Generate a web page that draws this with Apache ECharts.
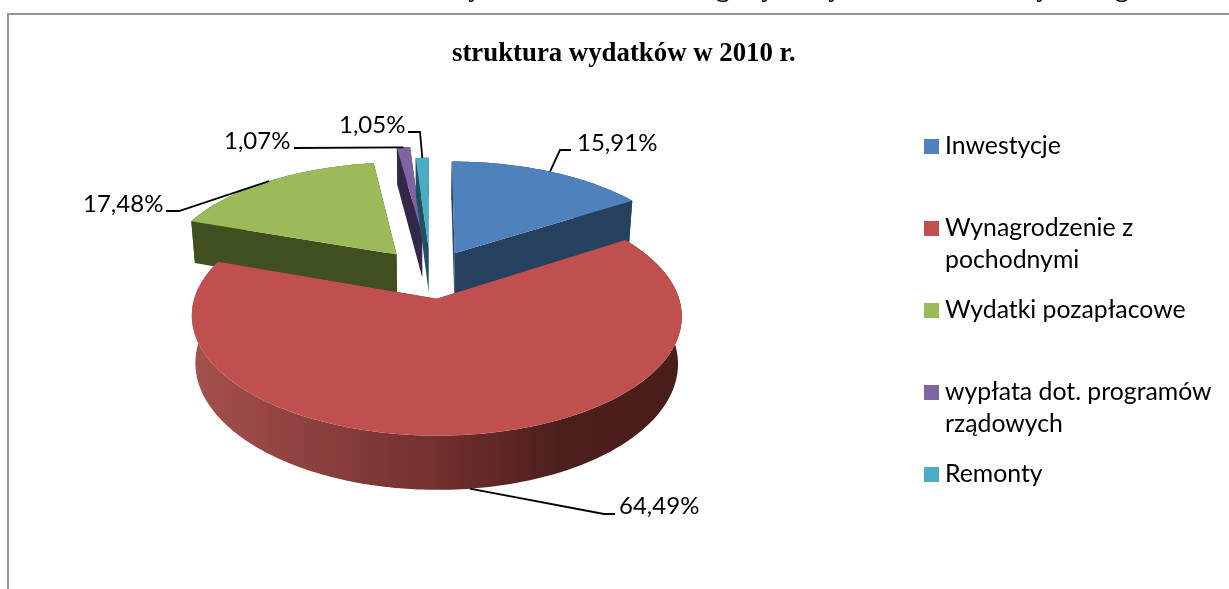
<!DOCTYPE html>
<html>
<head>
<meta charset="utf-8">
<title>struktura wydatków w 2010 r.</title>
<script src="https://cdn.jsdelivr.net/npm/echarts@6/dist/echarts.min.js"></script>
<style>
  html, body { margin: 0; padding: 0; background: #fff; }
  #chart { width: 1229px; height: 589px; }
</style>
</head>
<body>
<div id="chart"></div>
<script>
const titleText = "struktura wydatków w 2010 r.";
const categories = ["Inwestycje", "Wynagrodzenie z\npochodnymi", "Wydatki pozapłacowe", "wypłata dot. programów\nrządowych", "Remonty"];
const values = [15.91, 64.49, 17.48, 1.07, 1.05];
const valueLabels = ["15,91%", "64,49%", "17,48%", "1,07%", "1,05%"];
// only the tails of the heading above the frame are left in the picture
const croppedGlyphs = ["y", "g", "y", "y", "y", "g"];

const topColors = ["#4f81bd", "#c0504d", "#9bbb59", "#8064a2", "#4bacc6"];
const wallColors = ["#26405f", "#60201e", "#404f20", "#33284a", "#1f5260"];
const explode = [0.22, 0.22, 0.235, 0.38, 0.24];
// draw order, back to front
const paintOrder = [3, 4, 0, 2, 1];
// label left edge / middle and the leader line bends, per slice
const labelAt = [[577, 143], [619, 506], [83, 204], [224, 141], [339, 125]];
const leaderBends = [
  [[571, 150], [560, 150]],
  [[615, 514], [604, 514]],
  [[166, 211], [179, 211]],
  [[294, 148]],
  [[408, 132], [420, 132]],
];
const croppedGlyphX = [475, 723, 768, 835, 1043, 1122];

// flattened pie with a little perspective
const cx = 430.5, cy = 274, radiusX = 235, radiusY = 110, persp = 0.14, depth = 45;

function project(x, y, bottom) {
  const s = 1 / (1 - persp * y);
  const k = bottom ? 0.985 : 1;
  return [cx + radiusX * x * s * k, cy + radiusY * y * s + (bottom ? depth * s : 0)];
}

// start and end angles (clockwise from the top) from the values
const total = values.reduce((a, b) => a + b, 0);
const angles = [];
let acc = 0;
values.forEach((v) => {
  const start = (acc / total) * Math.PI * 2;
  acc += v;
  angles.push([start, (acc / total) * Math.PI * 2]);
});

function offsetOf(i) {
  const mid = (angles[i][0] + angles[i][1]) / 2;
  return [Math.sin(mid) * explode[i], -Math.cos(mid) * explode[i]];
}

function rimPoint(i, a, bottom) {
  const o = offsetOf(i);
  return project(o[0] + Math.sin(a), o[1] - Math.cos(a), bottom);
}

function arcPoints(i, bottom) {
  const pts = [];
  const steps = Math.max(4, Math.ceil((angles[i][1] - angles[i][0]) / 0.02));
  for (let k = 0; k <= steps; k++) {
    pts.push(rimPoint(i, angles[i][0] + ((angles[i][1] - angles[i][0]) * k) / steps, bottom));
  }
  return pts;
}

function poly(points, fill, z2) {
  return { type: "polygon", z2: z2, shape: { points: points }, style: { fill: fill }, silent: true };
}

function renderSlice(params, api) {
  const i = api.value(0);
  const z = paintOrder.indexOf(i) * 10;
  const o = offsetOf(i);
  const apexTop = project(o[0], o[1], false);
  const apexBottom = project(o[0], o[1], true);
  const topArc = arcPoints(i, false);
  const bottomArc = arcPoints(i, true);
  let rimFill = wallColors[i];
  if (i === 1) {
    rimFill = new echarts.graphic.LinearGradient(0, 0, 1, 0, [
      { offset: 0, color: "#a5504d" },
      { offset: 0.5, color: "#72302e" },
      { offset: 0.75, color: "#4c1f1d" },
      { offset: 1, color: "#4a1d1b" },
    ]);
  }
  // leader starts on the rim at the middle of the slice, the big one on its lower edge
  const anchor = rimPoint(i, (angles[i][0] + angles[i][1]) / 2, i === 1);
  const children = [
    poly([apexTop, topArc[0], bottomArc[0], apexBottom], wallColors[i], z),
    poly([apexTop, topArc[topArc.length - 1], bottomArc[bottomArc.length - 1], apexBottom], wallColors[i], z),
    poly(topArc.concat(bottomArc.slice().reverse()), rimFill, z + 1),
    poly([apexTop].concat(topArc), topColors[i], z + 2),
    {
      type: "polyline",
      z2: 100,
      silent: true,
      shape: { points: leaderBends[i].concat([anchor]) },
      style: { stroke: "#000", lineWidth: 1.8, fill: null },
    },
    {
      type: "text",
      z2: 101,
      silent: true,
      style: {
        text: valueLabels[i],
        x: labelAt[i][0],
        y: labelAt[i][1],
        fontFamily: "Lato",
        fontSize: 24,
        fill: "#000",
        align: "left",
        verticalAlign: "middle",
      },
    },
  ];
  return { type: "group", children: children };
}

const chart = echarts.init(document.getElementById("chart"));
chart.setOption({
  animation: false,
  backgroundColor: "#fff",
  title: {
    text: titleText,
    left: 452,
    top: 41,
    padding: 0,
    textStyle: { fontFamily: "Liberation Serif", fontWeight: "bold", fontSize: 26.8, color: "#000" },
  },
  // one legend per entry: the spacing is even whether the entry wraps or not
  legend: categories.map((name, i) => ({
    data: [name],
    left: 924,
    top: 146.5 - 48 + i * 82,
    padding: 0,
    orient: "vertical",
    itemWidth: 15,
    itemHeight: 15,
    icon: "rect",
    selectedMode: false,
    textStyle: { fontFamily: "Lato", fontSize: 24.8, lineHeight: 32, color: "#000", padding: [0, 0, 0, 1] },
    // blank first line keeps the square level with the first line of text
    formatter: (n) => "\n" + n + (n.indexOf("\n") < 0 ? "\n" : ""),
  })),
  graphic: [
    {
      type: "polyline",
      silent: true,
      shape: { points: [[8, 589], [8, 14], [1229, 14]] },
      style: { stroke: "#969696", lineWidth: 2, fill: null },
    },
  ].concat(croppedGlyphs.map((g, i) => ({
    type: "text",
    silent: true,
    x: croppedGlyphX[i],
    y: 3,
    style: {
      text: g,
      fontFamily: "Liberation Serif",
      fontWeight: "bold",
      fontSize: 26.8,
      fill: "#000",
      align: "center",
      verticalAlign: "bottom",
    },
  }))),
  series: categories.map((name, i) => ({
    type: "custom",
    name: name,
    coordinateSystem: "none",
    renderItem: renderSlice,
    itemStyle: { color: topColors[i] },
    data: [[i, values[i]]],
    silent: true,
  })),
});
</script>
</body>
</html>
